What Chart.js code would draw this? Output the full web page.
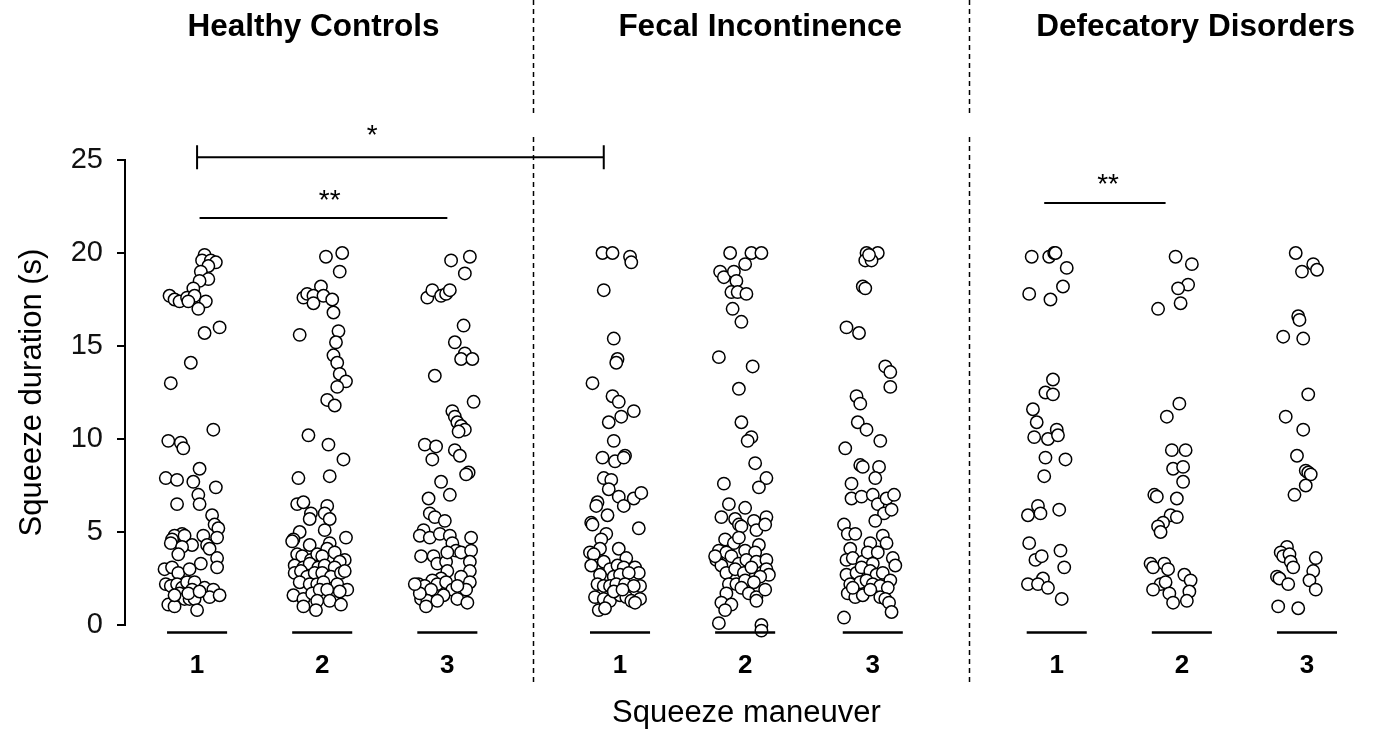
<!DOCTYPE html>
<html>
<head>
<meta charset="utf-8">
<title>Squeeze duration by maneuver</title>
<script src="https://cdn.jsdelivr.net/npm/chart.js@4.4.1/dist/chart.umd.min.js"></script>
<style>
  html, body { margin: 0; padding: 0; background: #fff; }
  #wrap { width: 1376px; height: 733px; position: relative; }
</style>
</head>
<body>
<div id="wrap"><canvas id="chart" width="1376" height="733"></canvas></div>
<script>
// Groups, maneuvers and y ticks
const groups = ['Healthy Controls', 'Fecal Incontinence', 'Defecatory Disorders'];
const maneuvers = ['1', '2', '3'];
const yTicks = [0, 5, 10, 15, 20, 25];

// Each point: [horizontal jitter within the column, squeeze duration in s]
const hc1 = [[0.06,19.9],[0.04,19.6],[0.11,19.6],[0.15,19.5],[0.09,19.3],[0.03,19.0],[0.09,18.6],[0.02,18.5],[-0.03,18.1],[-0.22,17.7],[-0.18,17.5],[-0.14,17.4],[-0.08,17.6],[-0.02,17.7],[-0.07,17.4],[0.07,17.4],[0.01,17.0],[0.18,16.0],[0.06,15.7],[-0.05,14.1],[-0.21,13.0],[0.13,10.5],[-0.23,9.9],[-0.13,9.8],[-0.11,9.5],[0.02,8.4],[-0.25,7.9],[-0.16,7.8],[-0.03,7.7],[0.15,7.4],[0.01,7.0],[0.02,6.5],[-0.16,6.5],[0.12,5.9],[0.14,5.4],[0.17,5.2],[-0.12,4.9],[-0.18,4.8],[-0.10,4.8],[-0.20,4.6],[-0.21,4.4],[0.05,4.8],[0.16,4.7],[-0.04,4.3],[-0.12,4.2],[0.08,4.3],[0.10,4.1],[-0.15,3.8],[0.16,3.6],[-0.26,3.0],[-0.20,3.1],[0.03,3.3],[0.16,3.1],[-0.15,2.8],[-0.06,3.0],[-0.25,2.2],[-0.21,2.1],[-0.16,2.2],[-0.12,2.0],[-0.08,2.3],[-0.02,2.3],[-0.04,1.9],[-0.14,1.7],[-0.10,1.4],[-0.06,1.4],[-0.02,1.4],[0.06,2.0],[0.13,1.9],[0.10,1.5],[0.18,1.6],[-0.23,1.1],[-0.18,1.0],[0.00,0.8],[-0.07,1.7],[0.02,1.8],[-0.18,1.6]];
const hc2 = [[0.03,19.8],[0.16,20.0],[0.14,19.0],[-0.01,18.2],[-0.15,17.6],[-0.12,17.8],[-0.07,17.7],[-0.07,17.3],[0.01,17.7],[0.08,17.5],[0.09,16.8],[-0.18,15.6],[0.13,15.8],[0.11,15.2],[0.09,14.5],[0.12,14.1],[0.14,13.5],[0.19,13.1],[0.12,12.8],[0.04,12.1],[0.10,11.8],[-0.11,10.2],[0.05,9.7],[0.17,8.9],[-0.19,7.9],[0.06,8.0],[-0.20,6.5],[-0.15,6.6],[-0.09,6.0],[-0.10,5.7],[0.04,6.4],[0.02,6.0],[0.06,5.7],[0.02,5.1],[-0.18,5.0],[0.19,4.7],[-0.23,4.6],[-0.24,4.5],[-0.10,4.3],[0.06,4.4],[0.04,4.1],[0.10,3.9],[-0.20,3.8],[-0.16,3.7],[-0.09,3.5],[-0.04,3.8],[0.00,3.7],[0.18,3.5],[0.14,3.4],[-0.22,3.2],[-0.15,3.1],[-0.10,3.3],[-0.03,3.1],[0.02,3.2],[0.10,3.1],[-0.22,2.8],[-0.17,2.9],[-0.12,2.6],[-0.06,2.8],[0.00,2.8],[0.07,2.6],[0.15,2.8],[0.18,2.9],[-0.18,2.3],[-0.10,2.2],[-0.04,2.2],[0.01,2.3],[0.12,2.2],[0.20,1.9],[-0.23,1.6],[-0.15,1.4],[-0.08,1.7],[-0.02,1.9],[0.04,1.9],[0.14,1.8],[-0.04,1.3],[0.06,1.3],[-0.15,1.0],[-0.05,0.8],[0.15,1.1]];
const hc3 = [[0.03,19.6],[0.18,19.8],[0.14,18.9],[-0.16,17.6],[-0.12,18.0],[-0.05,17.7],[-0.01,17.8],[0.02,18.0],[0.13,16.1],[0.06,15.2],[0.14,14.6],[0.11,14.3],[0.20,14.3],[-0.10,13.4],[0.21,12.0],[0.04,11.5],[0.06,11.2],[0.08,10.9],[0.11,10.7],[0.14,10.5],[0.09,10.4],[-0.18,9.7],[-0.09,9.6],[0.06,9.4],[0.10,9.1],[-0.12,8.9],[0.17,8.2],[0.15,8.1],[-0.05,7.7],[0.02,7.0],[-0.15,6.8],[-0.14,6.0],[-0.10,5.8],[-0.02,5.6],[-0.19,5.1],[-0.22,4.8],[-0.14,4.7],[-0.06,4.9],[0.02,4.8],[0.04,4.4],[0.19,4.7],[0.07,4.0],[0.11,3.9],[0.19,4.0],[-0.21,3.7],[-0.11,3.7],[-0.08,3.3],[-0.01,3.4],[0.00,3.9],[0.18,3.4],[0.18,2.9],[0.00,2.9],[0.11,2.6],[-0.05,2.5],[-0.12,2.4],[-0.23,2.2],[-0.18,2.1],[-0.08,2.2],[-0.01,2.3],[0.18,2.3],[0.15,1.9],[0.04,1.9],[-0.13,1.9],[-0.03,1.6],[-0.21,1.4],[-0.16,1.3],[-0.08,1.3],[0.08,1.4],[0.16,1.2],[-0.17,1.0],[-0.22,1.7],[0.08,2.1],[-0.26,2.2]];
const fi1 = [[-0.14,20.0],[-0.06,20.0],[0.08,19.8],[0.09,19.5],[-0.13,18.0],[-0.05,15.4],[-0.02,14.3],[-0.03,14.1],[-0.22,13.0],[-0.06,12.3],[-0.01,12.0],[0.11,11.5],[0.01,11.2],[-0.09,10.9],[-0.05,9.9],[-0.14,9.0],[-0.04,8.8],[0.04,9.1],[0.03,9.0],[-0.13,7.9],[-0.07,7.8],[-0.09,7.3],[-0.01,6.9],[0.03,6.4],[0.11,6.8],[0.17,7.1],[-0.18,6.6],[-0.19,6.4],[-0.10,5.9],[-0.23,5.5],[-0.22,5.4],[0.15,5.2],[-0.11,4.9],[-0.15,4.6],[-0.16,4.1],[-0.01,4.1],[-0.24,3.9],[-0.21,3.8],[0.05,3.6],[-0.19,3.2],[-0.13,3.4],[-0.08,3.0],[-0.02,3.2],[0.03,3.1],[0.12,3.1],[0.15,2.8],[-0.23,3.2],[-0.16,2.7],[-0.05,2.6],[0.00,2.7],[0.07,2.8],[-0.18,2.2],[-0.13,2.1],[-0.08,2.1],[-0.03,2.2],[0.04,2.2],[0.16,2.1],[0.11,2.1],[-0.20,1.5],[-0.13,1.4],[-0.08,1.3],[0.00,1.6],[0.05,1.5],[0.09,1.3],[0.16,1.4],[0.12,1.2],[-0.17,0.8],[-0.12,0.9],[-0.05,1.8],[0.02,1.9]];
const fi2 = [[-0.12,20.0],[0.05,20.0],[0.13,20.0],[0.00,19.4],[-0.20,19.0],[-0.17,18.7],[-0.09,19.0],[-0.07,18.5],[-0.11,17.9],[-0.06,17.9],[0.01,17.8],[-0.10,17.0],[-0.03,16.3],[-0.21,14.4],[0.06,13.9],[-0.05,12.7],[-0.03,10.9],[0.05,10.1],[0.02,9.9],[0.08,8.7],[0.17,7.9],[0.11,7.4],[-0.17,7.6],[-0.13,6.5],[0.00,6.3],[-0.19,5.8],[-0.08,5.7],[-0.05,5.4],[-0.03,5.3],[0.07,5.6],[0.17,5.8],[0.09,5.1],[0.16,5.4],[-0.16,4.6],[-0.09,4.4],[-0.05,4.7],[0.11,4.3],[-0.21,4.0],[-0.15,3.9],[0.00,4.0],[0.08,3.9],[-0.23,3.5],[-0.19,3.2],[-0.11,3.7],[-0.05,3.3],[0.01,3.5],[0.09,3.4],[0.17,3.5],[0.17,3.0],[-0.15,2.8],[-0.08,3.0],[-0.01,2.8],[0.05,3.1],[0.19,2.7],[0.12,2.6],[-0.13,2.2],[-0.07,2.2],[0.00,2.4],[0.07,2.3],[-0.03,2.0],[0.03,1.7],[0.09,1.5],[0.16,1.9],[-0.15,1.7],[-0.19,1.2],[-0.11,1.1],[-0.16,0.8],[0.09,1.3],[-0.21,0.1],[0.13,0.0],[0.13,-0.3],[-0.24,3.7]];
const fi3 = [[-0.05,20.0],[0.04,20.0],[-0.06,19.6],[-0.01,19.6],[-0.03,19.9],[-0.08,18.2],[-0.06,18.1],[-0.21,16.0],[-0.11,15.7],[0.10,13.9],[0.14,13.6],[0.14,12.8],[-0.13,12.3],[-0.10,11.9],[-0.12,10.9],[-0.05,10.5],[0.06,9.9],[-0.22,9.5],[-0.10,8.6],[-0.08,8.5],[0.05,8.5],[0.02,7.9],[-0.17,7.6],[-0.17,6.8],[-0.09,6.9],[0.00,7.0],[0.04,6.5],[0.11,6.8],[0.17,7.0],[0.09,6.0],[0.15,6.2],[0.02,5.6],[-0.23,5.4],[-0.20,4.9],[-0.14,4.9],[0.08,4.8],[0.11,4.4],[-0.02,4.4],[-0.18,4.1],[-0.21,3.5],[-0.16,3.6],[-0.08,3.4],[-0.04,3.9],[0.04,3.9],[0.00,3.3],[0.16,3.6],[0.18,3.2],[-0.21,2.7],[-0.13,2.8],[-0.09,3.1],[-0.02,2.9],[0.03,2.7],[0.08,2.8],[0.14,2.4],[-0.18,2.2],[-0.10,2.3],[-0.05,2.4],[0.00,2.2],[0.06,2.1],[0.12,2.0],[-0.20,1.7],[-0.14,1.5],[-0.08,1.6],[-0.02,1.9],[0.06,1.5],[0.10,1.4],[0.13,1.2],[0.15,0.7],[-0.23,0.4],[-0.16,2.0]];
const dd1 = [[-0.20,19.8],[-0.06,19.8],[-0.02,20.0],[-0.01,20.0],[0.08,19.2],[0.05,18.2],[-0.22,17.8],[-0.05,17.5],[-0.03,13.2],[-0.09,12.5],[-0.03,12.4],[-0.19,11.6],[-0.16,10.9],[0.00,10.5],[-0.18,10.1],[-0.07,10.0],[0.01,10.2],[-0.09,9.0],[0.07,8.9],[-0.10,8.0],[-0.15,6.4],[-0.23,5.9],[-0.13,6.0],[0.02,6.2],[-0.22,4.4],[-0.17,3.5],[-0.12,3.7],[0.03,4.0],[0.06,3.1],[-0.11,2.5],[-0.23,2.2],[-0.15,2.2],[-0.07,2.0],[0.04,1.4]];
const dd2 = [[-0.05,19.8],[0.08,19.4],[0.05,18.3],[-0.03,18.1],[-0.19,17.0],[-0.01,17.3],[-0.02,11.9],[-0.12,11.2],[-0.08,9.4],[0.03,9.4],[-0.07,8.4],[0.01,8.5],[0.01,7.7],[-0.22,7.0],[-0.20,6.9],[-0.04,6.8],[-0.09,5.9],[-0.04,5.8],[-0.15,5.5],[-0.19,5.3],[-0.17,5.0],[-0.25,3.3],[-0.23,3.1],[-0.14,3.3],[-0.11,3.0],[0.02,2.7],[0.07,2.4],[-0.17,2.2],[-0.13,2.3],[-0.23,1.9],[-0.10,1.7],[0.06,1.8],[-0.07,1.2],[0.04,1.3]];
const dd3 = [[-0.09,20.0],[0.05,19.4],[-0.04,19.0],[0.08,19.1],[-0.07,16.6],[-0.06,16.4],[-0.19,15.5],[-0.03,15.4],[0.01,12.4],[-0.17,11.2],[-0.03,10.5],[-0.08,9.1],[-0.01,8.3],[0.01,8.2],[0.03,8.1],[-0.01,7.5],[-0.10,7.0],[-0.16,4.2],[-0.21,3.9],[-0.19,3.7],[-0.14,3.8],[-0.13,3.4],[-0.11,3.1],[0.07,3.6],[0.05,2.9],[-0.24,2.6],[-0.22,2.5],[-0.15,2.2],[0.02,2.4],[0.07,1.9],[-0.23,1.0],[-0.07,0.9]];

const series = [hc1, hc2, hc3, fi1, fi2, fi3, dd1, dd2, dd3];

// column centres on the linear x scale (1 unit = spacing between maneuvers)
const slots = [1, 2, 3, 4.38, 5.38, 6.4, 7.87, 8.87, 9.87];
const groupTitleAt = [1.93, 5.5, 8.98];
const separators = [3.688, 7.168];
const brackets = [
  { from: 1, to: 4.25, at: 25.15, text: '*', textAt: 2.4, textY: 129, ends: true },
  { from: 1.02, to: 3.0, at: 21.88, text: '**', textAt: 2.06, textY: 194, ends: false },
  { from: 7.77, to: 8.74, at: 22.69, text: '**', textAt: 8.28, textY: 178, ends: false }
];

const FONT = '"Liberation Sans", Arial, Helvetica, sans-serif';

const decorations = {
  id: 'decorations',
  afterDraw(chart) {
    const { ctx, scales: { x, y } } = chart;
    ctx.save();
    ctx.fillStyle = '#000';
    ctx.strokeStyle = '#000';

    // dashed separators between patient groups
    ctx.lineWidth = 1.5;
    ctx.setLineDash([5, 4]);
    separators.forEach(v => {
      const px = Math.round(x.getPixelForValue(v)) + 0.5;
      [[0, 113], [137, 682]].forEach(([a, b]) => {
        ctx.beginPath();
        ctx.moveTo(px, a);
        ctx.lineTo(px, b);
        ctx.stroke();
      });
    });
    ctx.setLineDash([]);

    // group titles
    ctx.textAlign = 'center';
    ctx.textBaseline = 'middle';
    ctx.font = 'bold 31.5px ' + FONT;
    groups.forEach((g, i) => ctx.fillText(g, x.getPixelForValue(groupTitleAt[i]), 27));

    // bottom bars and maneuver labels
    ctx.lineWidth = 2.5;
    ctx.font = 'bold 26px ' + FONT;
    slots.forEach((s, i) => {
      const py = y.getPixelForValue(-0.4);
      ctx.beginPath();
      ctx.moveTo(x.getPixelForValue(s - 0.24), py);
      ctx.lineTo(x.getPixelForValue(s + 0.24), py);
      ctx.stroke();
      ctx.fillText(maneuvers[i % 3], x.getPixelForValue(s), 666);
    });

    // significance brackets
    ctx.lineWidth = 2;
    ctx.font = '28px ' + FONT;
    brackets.forEach(b => {
      const py = y.getPixelForValue(b.at);
      const x0 = x.getPixelForValue(b.from), x1 = x.getPixelForValue(b.to);
      ctx.beginPath();
      ctx.moveTo(x0, py);
      ctx.lineTo(x1, py);
      if (b.ends) {
        ctx.moveTo(x0, py - 12); ctx.lineTo(x0, py + 12);
        ctx.moveTo(x1, py - 12); ctx.lineTo(x1, py + 12);
      }
      ctx.stroke();
      ctx.textBaseline = 'alphabetic';
      ctx.fillText(b.text, x.getPixelForValue(b.textAt), b.textY + 15);
    });

    // axis titles
    ctx.font = '31px ' + FONT;
    ctx.textBaseline = 'middle';
    ctx.fillText('Squeeze maneuver', x.getPixelForValue(5.39), 713);
    ctx.translate(32, (chart.chartArea.top + chart.chartArea.bottom) / 2);
    ctx.rotate(-Math.PI / 2);
    ctx.fillText('Squeeze duration (s)', 0, 0);
    ctx.restore();
  }
};

new Chart(document.getElementById('chart'), {
  type: 'scatter',
  data: {
    datasets: series.map((pts, i) => ({
      data: pts.map(([j, v]) => ({ x: slots[i] + j, y: v })),
      pointRadius: 6.2,
      pointHoverRadius: 6.2,
      pointBackgroundColor: '#fff',
      pointBorderColor: '#000',
      pointBorderWidth: 1.5,
      clip: false
    }))
  },
  options: {
    responsive: false,
    animation: false,
    devicePixelRatio: 1,
    layout: { padding: { top: 160, right: 0, bottom: 108, left: 0 } },
    plugins: { legend: { display: false }, tooltip: { enabled: false } },
    scales: {
      x: { type: 'linear', display: false, min: 0.424, max: 10.36 },
      y: {
        min: 0,
        max: 25,
        afterFit(axis) { axis.width = 125; },
        afterBuildTicks(axis) { axis.ticks = yTicks.map(v => ({ value: v })); },
        border: { display: true, color: '#000', width: 2 },
        grid: { drawOnChartArea: false, drawTicks: true, tickLength: 8, color: '#000', lineWidth: 2 },
        ticks: { padding: 14, color: '#111', font: { family: FONT, size: 29 } }
      }
    }
  },
  plugins: [decorations]
});
</script>
</body>
</html>
